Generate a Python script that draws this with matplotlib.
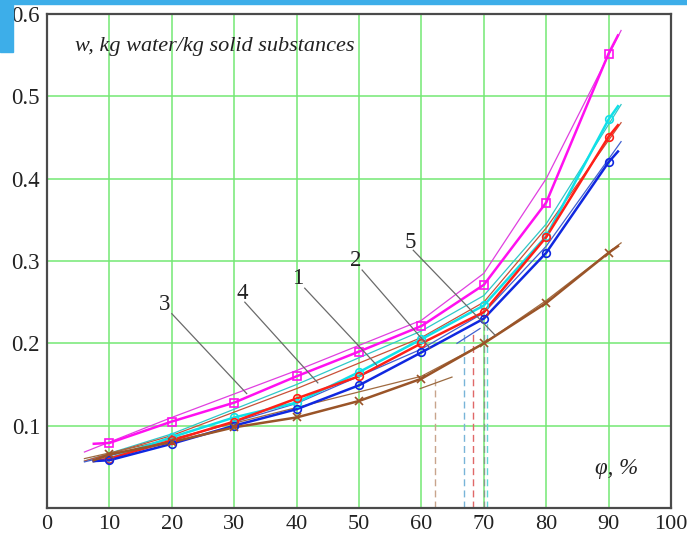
import matplotlib.pyplot as plt
from matplotlib.patches import Rectangle

# measured points, phi in %
phi = [10, 20, 30, 40, 50, 60, 70, 80, 90]
w_3 = [0.079, 0.105, 0.128, 0.160, 0.190, 0.221, 0.271, 0.371, 0.552]  # magenta
w_4 = [0.060, 0.086, 0.110, 0.128, 0.165, 0.205, 0.246, 0.330, 0.472]  # cyan
w_1 = [0.060, 0.082, 0.105, 0.133, 0.160, 0.200, 0.238, 0.329, 0.451]  # red
w_2 = [0.058, 0.078, 0.100, 0.120, 0.149, 0.189, 0.230, 0.310, 0.420]  # blue
w_5 = [0.065, 0.080, 0.098, 0.110, 0.130, 0.157, 0.200, 0.249, 0.310]  # brown

# ends of the measured curves (start, end)
phi_ends = [7.5, 91.5]
ends_3 = [0.078, 0.574]
ends_4 = [0.057, 0.488]
ends_1 = [0.057, 0.465]
ends_2 = [0.057, 0.433]
ends_5 = [0.058, 0.318]

# fitted curves (thin lines)
phi_fit = [6, 20, 40, 60, 70, 80, 92]
fit_3 = [0.068, 0.110, 0.167, 0.228, 0.285, 0.400, 0.580]
fit_4 = [0.057, 0.090, 0.150, 0.215, 0.258, 0.345, 0.490]
fit_1 = [0.057, 0.088, 0.145, 0.207, 0.250, 0.340, 0.468]
fit_2 = [0.056, 0.082, 0.127, 0.193, 0.237, 0.318, 0.445]
fit_5 = [0.060, 0.084, 0.122, 0.160, 0.200, 0.252, 0.322]

# critical humidity (dashed verticals) and the w there
phi_cr = [62.2, 66.8, 68.3, 70.0, 70.5]
w_cr = [0.159, 0.213, 0.216, 0.221, 0.225]
col_cr = ['#c8a48c', '#78b4d8', '#e06868', '#8a9a8a', '#60d4d4']

plt.rcParams['font.family'] = ['Liberation Serif', 'DejaVu Serif']

fig = plt.figure(figsize=(6.87, 5.38), dpi=100)
fig.patches.append(Rectangle((0, 1 - 4 / 538), 1, 4 / 538, transform=fig.transFigure,
                             color='#3daee9', zorder=0))
fig.patches.append(Rectangle((0, 1 - 52 / 538), 13 / 687, 52 / 538, transform=fig.transFigure,
                             color='#3daee9', zorder=0))

ax = fig.add_axes([47 / 687, 30 / 538, 624 / 687, 494 / 538])
ax.set_xlim(0, 100)
ax.set_ylim(0, 0.6)
ax.set_xticks(range(0, 101, 10))
ax.set_yticks([0.1, 0.2, 0.3, 0.4, 0.5, 0.6])
ax.set_yticklabels(['0.1', '0.2', '0.3', '0.4', '0.5', '0.6'])
ax.tick_params(length=0, labelsize=16.5, colors='#222222')
ax.tick_params(axis='x', pad=5, labelsize=16)
ax.tick_params(axis='y', pad=5)
for s in ax.spines.values():
    s.set_color('#4a4a4a')
    s.set_linewidth(1.6)

for x in range(10, 100, 10):
    ax.axvline(x, color='#74e874', lw=1.1, zorder=1)
for y in [0.1, 0.2, 0.3, 0.4, 0.5]:
    ax.axhline(y, color='#74e874', lw=1.1, zorder=1)

curves = [
    (w_3, ends_3, fit_3, '#ff10f0', '#e040e0', 's', 'none'),
    (w_4, ends_4, fit_4, '#10e0e8', '#30c8c8', 'o', 'none'),
    (w_1, ends_1, fit_1, '#ff2018', '#c85038', 'o', 'none'),
    (w_2, ends_2, fit_2, '#1028e0', '#4060d0', 'o', 'none'),
    (w_5, ends_5, fit_5, '#9a5428', '#a06a40', 'x', 'none'),
]
for w, ends, fit, c, cf, m, mfc in curves:
    ax.plot(phi_fit, fit, color=cf, lw=0.9, zorder=3)
    ax.plot([phi_ends[0]] + phi + [phi_ends[1]], [ends[0]] + w + [ends[1]],
            color=c, lw=1.8, zorder=4)
    ax.plot(phi, w, ls='none', marker=m, ms=5.5, mfc=mfc, mec=c, mew=1.2, zorder=5)

# tangents at the critical points
ax.plot([59.8, 64.9], [0.145, 0.159], color='#9a6a40', lw=0.9, zorder=3)
ax.plot([65.7, 69.4], [0.200, 0.218], color='#4060d0', lw=0.9, zorder=3)

for x, y, c in zip(phi_cr, w_cr, col_cr):
    ax.plot([x, x], [0, y], color=c, lw=1.0, ls=(0, (5, 3)), zorder=2)

# curve numbers
labels = [('3', (18.8, 0.247), (20.0, 0.236), (32.0, 0.139)),
          ('4', (31.3, 0.261), (31.7, 0.250), (43.4, 0.152)),
          ('1', (40.1, 0.279), (41.3, 0.267), (52.9, 0.173)),
          ('2', (49.5, 0.301), (50.5, 0.289), (61.4, 0.194)),
          ('5', (58.2, 0.322), (58.7, 0.313), (71.8, 0.210))]
for t, pt, p0, p1 in labels:
    ax.text(pt[0], pt[1], t, fontsize=16.5, ha='center', va='center', color='#222222', zorder=6)
    ax.plot([p0[0], p1[0]], [p0[1], p1[1]], color='#6a6a6a', lw=0.9, zorder=6)

ax.text(4.5, 0.560, 'w, kg water/kg solid substances', fontsize=16, style='italic',
        ha='left', va='center', color='#222222')
ax.text(87.8, 0.048, 'φ, %', fontsize=16.5, style='italic', ha='left', va='center',
        color='#222222')

fig.savefig('out.png', dpi=100)
